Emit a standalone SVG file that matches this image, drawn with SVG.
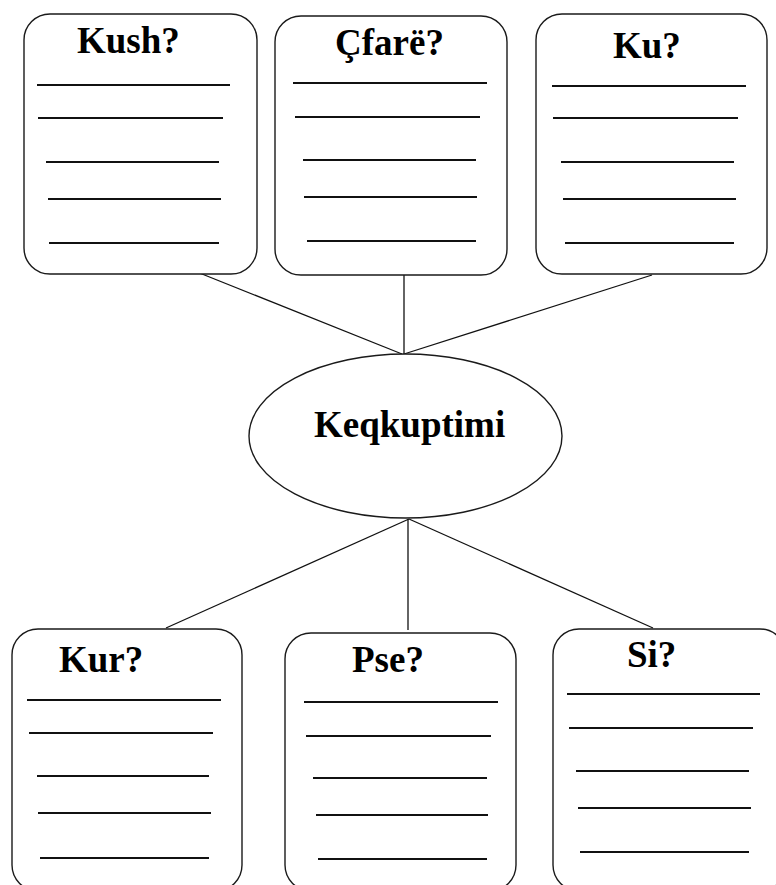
<svg xmlns="http://www.w3.org/2000/svg" width="776" height="885" viewBox="0 0 776 885">
<style>
.box{fill:#fff;stroke:#1a1a1a;stroke-width:1.4}
.rule{stroke:#111;stroke-width:2}
.conn{stroke:#111;stroke-width:1.3;fill:none}
.lbl{font-family:"Liberation Serif","Times New Roman",serif;font-weight:bold;font-size:37px;fill:#000}
</style>
<rect width="776" height="885" fill="#fff"/>
<g id="connectors" class="conn">
<line x1="197" y1="272" x2="402" y2="354"/>
<line x1="404" y1="268" x2="404" y2="354"/>
<line x1="652" y1="275" x2="404" y2="354"/>
<line x1="409" y1="519" x2="166" y2="628"/>
<line x1="408" y1="519" x2="408" y2="630"/>
<line x1="409" y1="519" x2="653" y2="628"/>
</g>
<g id="kush">
<rect class="box" x="24" y="14" width="233" height="260" rx="26"/>
<text class="lbl" x="77" y="53">Kush?</text>
<line class="rule" x1="37" y1="85" x2="230" y2="85"/>
<line class="rule" x1="38" y1="118" x2="223" y2="118"/>
<line class="rule" x1="46" y1="162" x2="219" y2="162"/>
<line class="rule" x1="48" y1="199" x2="221" y2="199"/>
<line class="rule" x1="49" y1="243" x2="219" y2="243"/>
</g>
<g id="cfare">
<rect class="box" x="275" y="16" width="232" height="259" rx="26"/>
<text class="lbl" x="335" y="55">Çfarë?</text>
<line class="rule" x1="293" y1="83" x2="487" y2="83"/>
<line class="rule" x1="295" y1="117" x2="480" y2="117"/>
<line class="rule" x1="303" y1="160" x2="476" y2="160"/>
<line class="rule" x1="304" y1="197" x2="477" y2="197"/>
<line class="rule" x1="307" y1="241" x2="476" y2="241"/>
</g>
<g id="ku">
<rect class="box" x="536" y="14" width="231" height="260" rx="26"/>
<text class="lbl" x="613" y="58">Ku?</text>
<line class="rule" x1="552" y1="86" x2="746" y2="86"/>
<line class="rule" x1="553" y1="118" x2="738" y2="118"/>
<line class="rule" x1="561" y1="162" x2="734" y2="162"/>
<line class="rule" x1="563" y1="199" x2="736" y2="199"/>
<line class="rule" x1="565" y1="243" x2="734" y2="243"/>
</g>
<g id="keqkuptimi">
<ellipse class="box" cx="405.5" cy="436" rx="156.5" ry="82"/>
<text class="lbl" x="314" y="437">Keqkuptimi</text>
</g>
<g id="kur">
<rect class="box" x="12" y="629" width="230" height="262" rx="26"/>
<text class="lbl" x="59" y="672">Kur?</text>
<line class="rule" x1="27" y1="700" x2="221" y2="700"/>
<line class="rule" x1="29" y1="733" x2="213" y2="733"/>
<line class="rule" x1="37" y1="776" x2="209" y2="776"/>
<line class="rule" x1="38" y1="813" x2="211" y2="813"/>
<line class="rule" x1="40" y1="858" x2="209" y2="858"/>
</g>
<g id="pse">
<rect class="box" x="285" y="633" width="231" height="258" rx="26"/>
<text class="lbl" x="352" y="672">Pse?</text>
<line class="rule" x1="304" y1="702" x2="498" y2="702"/>
<line class="rule" x1="306" y1="736" x2="491" y2="736"/>
<line class="rule" x1="313" y1="778" x2="487" y2="778"/>
<line class="rule" x1="316" y1="815" x2="488" y2="815"/>
<line class="rule" x1="318" y1="859" x2="487" y2="859"/>
</g>
<g id="si">
<rect class="box" x="553" y="629" width="233" height="262" rx="26"/>
<text class="lbl" x="627" y="667">Si?</text>
<line class="rule" x1="567" y1="694" x2="760" y2="694"/>
<line class="rule" x1="569" y1="728" x2="753" y2="728"/>
<line class="rule" x1="576" y1="771" x2="749" y2="771"/>
<line class="rule" x1="578" y1="808" x2="751" y2="808"/>
<line class="rule" x1="580" y1="852" x2="749" y2="852"/>
</g>
</svg>
